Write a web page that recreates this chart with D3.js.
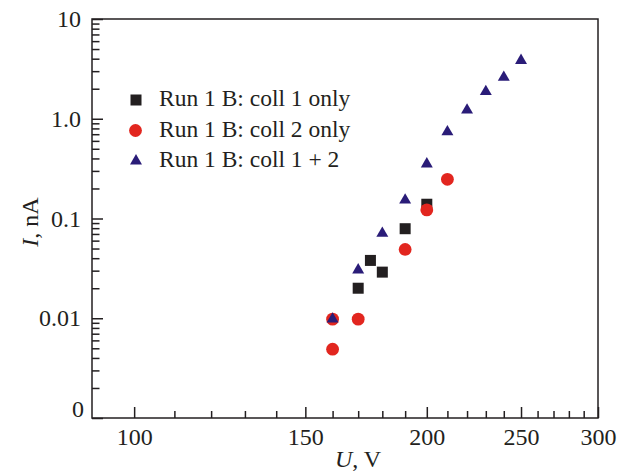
<!DOCTYPE html>
<html>
<head>
<meta charset="utf-8">
<script src="https://cdn.jsdelivr.net/npm/d3@7"></script>
<style>
  html, body { margin: 0; padding: 0; background: #fff; }
  svg { display: block; }
  text { font-family: "Liberation Serif", "Times New Roman", serif; fill: #231f20; }
</style>
</head>
<body>
<svg id="chart" width="626" height="474"></svg>
<script>
// ---- data ----
const seriesNames = ["Run 1 B: coll 1 only", "Run 1 B: coll 2 only", "Run 1 B: coll 1 + 2"];
const coll1U = [170, 175, 180, 190, 200];
const coll1I = [0.020, 0.038, 0.029, 0.079, 0.139];
const coll2U = [160, 160, 170, 190, 200, 210];
const coll2I = [0.0049, 0.0098, 0.0098, 0.049, 0.122, 0.247];
const coll12U = [160, 170, 180, 190, 200, 210, 220, 230, 240, 250];
const coll12I = [0.0098, 0.0305, 0.071, 0.153, 0.352, 0.74, 1.22, 1.87, 2.6, 3.84];

const xMajorTicks = [100, 150, 200, 250, 300];
const xTickLabels = ["100", "150", "200", "250", "300"];
const xMinorTicks = [110, 120, 130, 140, 160, 170, 180, 190, 210, 220, 230, 240, 260, 270, 280, 290];
const yMajorTicks = [10, 1, 0.1, 0.01, 0.001];
const yTickLabels = ["10", "1.0", "0.1", "0.01", "0"];
const yMinorTicks = [];
[0.001, 0.01, 0.1, 1].forEach(d => { for (let k = 2; k <= 9; k++) yMinorTicks.push(+(d * k).toPrecision(3)); });

// ---- layout ----
const svg = d3.select("#chart");
const mLeft = 92, mRight = 598, mTop = 19, mBottom = 418;
const ink = "#231f20";

const x = d3.scaleLog().domain([90.5, 300]).range([mLeft, mRight]);
const y = d3.scaleLog().domain([0.001, 10]).range([mBottom, mTop]);

// minor ticks
svg.append("g").attr("transform", `translate(0,${mBottom})`)
  .call(d3.axisBottom(x).tickValues(xMinorTicks).tickSize(-7).tickFormat(""))
  .call(g => g.select(".domain").remove())
  .call(g => g.selectAll("line").attr("stroke", ink).attr("stroke-width", 1.5));
svg.append("g").attr("transform", `translate(${mLeft},0)`)
  .call(d3.axisLeft(y).tickValues(yMinorTicks).tickSize(-7.5).tickFormat(""))
  .call(g => g.select(".domain").remove())
  .call(g => g.selectAll("line").attr("stroke", ink).attr("stroke-width", 1.5));

// major ticks + labels
svg.append("g").attr("transform", `translate(0,${mBottom})`)
  .call(d3.axisBottom(x).tickValues(xMajorTicks).tickSize(-11).tickPadding(10)
        .tickFormat((d, i) => xTickLabels[i]))
  .call(g => g.select(".domain").remove())
  .call(g => g.selectAll("line").attr("stroke", ink).attr("stroke-width", 1.5))
  .call(g => g.selectAll("text").attr("font-size", 24).attr("font-family", "Liberation Serif").attr("fill", ink));

svg.append("g").attr("transform", `translate(${mLeft},0)`)
  .call(d3.axisLeft(y).tickValues(yMajorTicks).tickSize(-11).tickPadding(11)
        .tickFormat((d, i) => yTickLabels[i]))
  .call(g => g.select(".domain").remove())
  .call(g => g.selectAll("line").attr("stroke", ink).attr("stroke-width", 1.5))
  .call(g => g.selectAll("text").attr("font-size", 24).attr("font-family", "Liberation Serif").attr("fill", ink))
  .call(g => g.selectAll(".tick").filter(d => d === 0.001).select("text").attr("dy", "-0.05em").attr("x", -8));

// frame
svg.append("rect")
  .attr("x", mLeft).attr("y", mTop).attr("width", mRight - mLeft).attr("height", mBottom - mTop)
  .attr("fill", "none").attr("stroke", ink).attr("stroke-width", 1.5);

// axis titles
const yt = svg.append("text").attr("transform", `translate(38,${222}) rotate(-90)`)
  .attr("text-anchor", "middle").attr("font-size", 24);
yt.append("tspan").attr("font-style", "italic").text("I");
yt.append("tspan").text(", nA");
const xt = svg.append("text").attr("x", 358).attr("y", 467)
  .attr("text-anchor", "middle").attr("font-size", 24);
xt.append("tspan").attr("font-style", "italic").text("U");
xt.append("tspan").text(", V");

// ---- markers ----
const cBlack = "#231f20", cRed = "#e2261f", cNavy = "#2a1c78";
const sq = 11, cr = 6.4;
const tri = d3.symbol().type(d3.symbolTriangle).size(62);

svg.append("g").selectAll("rect").data(d3.zip(coll1U, coll1I)).join("rect")
  .attr("x", d => x(d[0]) - sq / 2).attr("y", d => y(d[1]) - sq / 2)
  .attr("width", sq).attr("height", sq).attr("fill", cBlack);
svg.append("g").selectAll("circle").data(d3.zip(coll2U, coll2I)).join("circle")
  .attr("cx", d => x(d[0])).attr("cy", d => y(d[1])).attr("r", cr).attr("fill", cRed);
svg.append("g").selectAll("path").data(d3.zip(coll12U, coll12I)).join("path")
  .attr("transform", d => `translate(${x(d[0])},${y(d[1])})`).attr("d", tri).attr("fill", cNavy);

// ---- legend ----
const legY = [100, 130.5, 161];
const lg = svg.append("g");
lg.append("rect").attr("x", 136 - sq / 2).attr("y", legY[0] - sq / 2).attr("width", sq).attr("height", sq).attr("fill", cBlack);
lg.append("circle").attr("cx", 135.5).attr("cy", legY[1]).attr("r", cr).attr("fill", cRed);
lg.append("path").attr("transform", `translate(136,${legY[2]})`).attr("d", tri).attr("fill", cNavy);
lg.selectAll("text.leg").data(seriesNames).join("text").attr("class", "leg")
  .attr("x", 159).attr("y", (d, i) => legY[i] + 6).attr("font-size", 23.5).text(d => d);
</script>
</body>
</html>
